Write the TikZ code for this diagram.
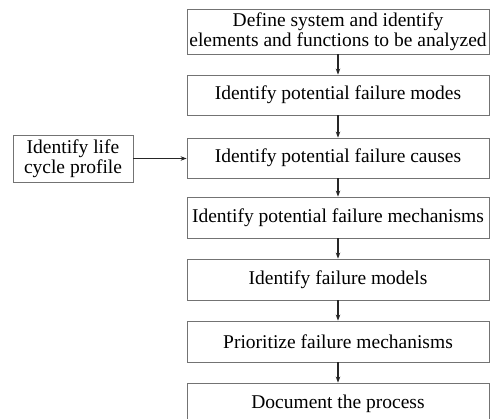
\documentclass[tikz,border=0pt]{standalone}
\usepackage{fontspec}
\setmainfont{Liberation Serif}
\usetikzlibrary{arrows.meta}
\tikzset{
  box/.style={draw=black!55, line width=0.8pt, rectangle, inner sep=0pt, align=center,
    font=\fontsize{19.5}{20}\selectfont, minimum width=302pt},
  sidebox/.style={draw=black!55, line width=0.8pt, rectangle, inner sep=0pt, align=center,
    font=\fontsize{19.5}{20}\selectfont, minimum width=120pt, minimum height=47pt},
  arr/.style={draw=black!85, line width=1.1pt, -{Stealth[length=6pt,width=4.5pt]}}
}
\begin{document}
\begin{tikzpicture}[x=1pt,y=-1pt]
\useasboundingbox (0,0) rectangle (490,418);
\clip (0,0) rectangle (490,418);
\node[box, minimum height=45pt] (b1) at (338,31.5) {Define system and identify\\elements and functions to be analyzed};
\node[box, minimum height=40pt] (b2) at (338,95) {Identify potential failure modes};
\node[box, minimum height=40pt] (b3) at (338,158) {Identify potential failure causes};
\node[box, minimum height=41pt] (b4) at (338,217.5) {Identify potential failure mechanisms};
\node[box, minimum height=41pt] (b5) at (338,279.5) {Identify failure models};
\node[box, minimum height=41pt] (b6) at (338,341.5) {Prioritize failure mechanisms};
\node[box, minimum height=42pt] (b7) at (338,404) {Document the process};
\node[sidebox] (lc) at (73,158.5) {Identify life\\cycle profile};
\draw[arr] (b1) -- (b2);
\draw[arr] (b2) -- (b3);
\draw[arr] (b3) -- (b4);
\draw[arr] (b4) -- (b5);
\draw[arr] (b5) -- (b6);
\draw[arr] (b6) -- (b7);
\draw[arr] (lc.east) -- (b3.west |- lc.east);
\end{tikzpicture}
\end{document}
